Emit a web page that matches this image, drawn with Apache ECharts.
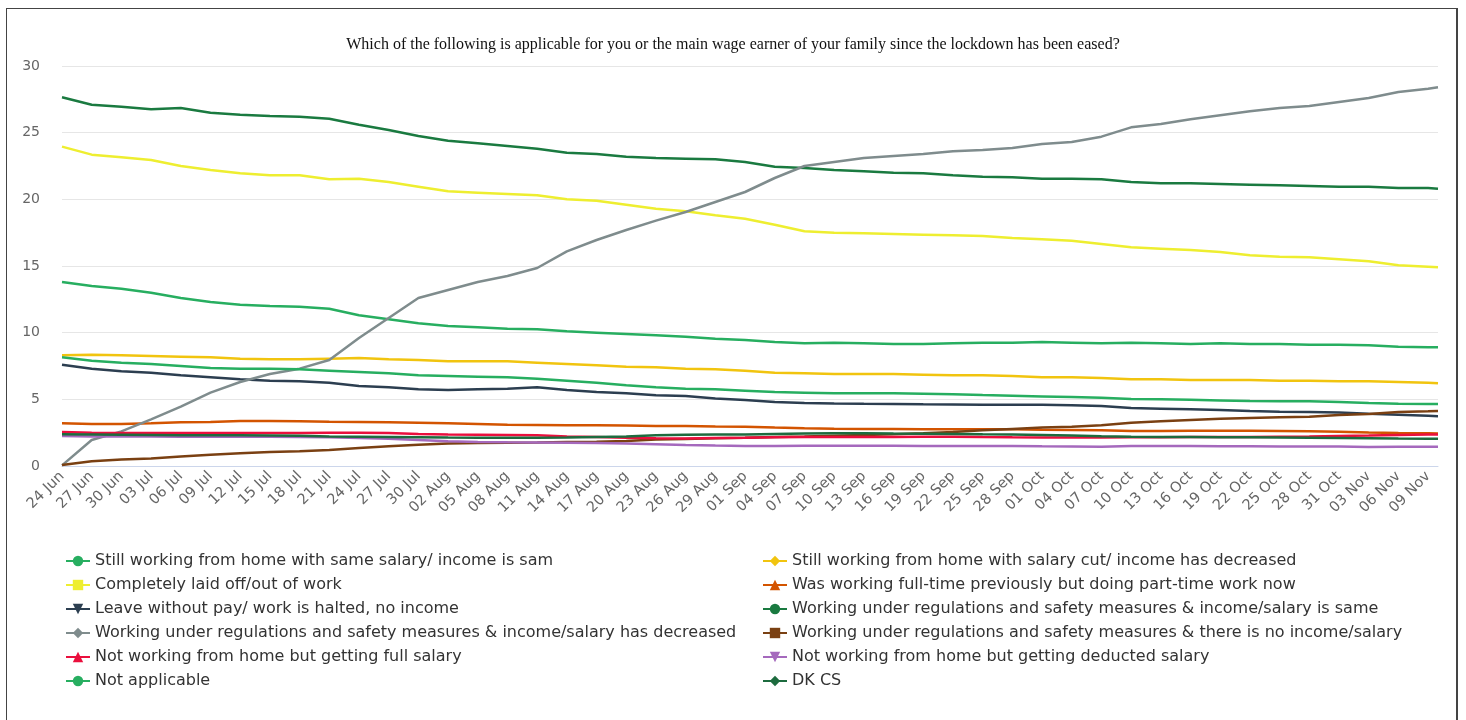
<!DOCTYPE html>
<html>
<head>
<meta charset="utf-8">
<script src="https://cdn.jsdelivr.net/npm/echarts@6/dist/echarts.min.js"></script>
<style>
  html, body { margin: 0; padding: 0; background: #fff; }
  #chart { position: absolute; left: 0; top: 0; width: 1466px; height: 720px; }
  #frame {
    position: absolute; left: 6px; top: 8px; width: 1449px; height: 720px;
    border-left: 1px solid #444; border-top: 1px solid #444; border-right: 2px solid #444;
    pointer-events: none;
  }
</style>
</head>
<body>
<div id="chart"></div>
<div id="frame"></div>
<script>
// 标题
const titleText = 'Which of the following is applicable for you or the main wage earner of your family since the lockdown has been eased?'

// x 轴刻度（每3天一个）
const tickLabels = ['24 Jun', '27 Jun', '30 Jun', '03 Jul', '06 Jul', '09 Jul', '12 Jul', '15 Jul', '18 Jul', '21 Jul',
  '24 Jul', '27 Jul', '30 Jul', '02 Aug', '05 Aug', '08 Aug', '11 Aug', '14 Aug', '17 Aug', '20 Aug',
  '23 Aug', '26 Aug', '29 Aug', '01 Sep', '04 Sep', '07 Sep', '10 Sep', '13 Sep', '16 Sep', '19 Sep',
  '22 Sep', '25 Sep', '28 Sep', '01 Oct', '04 Oct', '07 Oct', '10 Oct', '13 Oct', '16 Oct', '19 Oct',
  '22 Oct', '25 Oct', '28 Oct', '31 Oct', '03 Nov', '06 Nov', '09 Nov']
// 读数的日期 = 刻度 + 最后一天
const sampleDates = tickLabels.concat(['10 Nov'])

// 各系列数值（%）
const stillSame = [13.8, 13.5, 13.3, 13.0, 12.6, 12.3, 12.1, 12.0, 11.95, 11.8, 11.3, 11.0, 10.7, 10.5, 10.4, 10.3, 10.25, 10.1, 10.0, 9.9, 9.8, 9.7, 9.55, 9.45, 9.3, 9.2, 9.25, 9.2, 9.15, 9.15, 9.2, 9.25, 9.25, 9.3, 9.25, 9.2, 9.25, 9.2, 9.15, 9.2, 9.15, 9.15, 9.1, 9.1, 9.05, 8.95, 8.9, 8.9]
const salaryCut = [8.3, 8.35, 8.3, 8.25, 8.2, 8.15, 8.05, 8.0, 8.0, 8.05, 8.1, 8.0, 7.95, 7.85, 7.85, 7.85, 7.75, 7.65, 7.55, 7.45, 7.4, 7.3, 7.25, 7.15, 7.0, 6.95, 6.9, 6.9, 6.9, 6.85, 6.8, 6.8, 6.75, 6.65, 6.65, 6.6, 6.5, 6.5, 6.45, 6.45, 6.45, 6.4, 6.4, 6.35, 6.35, 6.3, 6.25, 6.2]
const laidOff = [23.95, 23.35, 23.15, 22.95, 22.5, 22.2, 21.95, 21.8, 21.8, 21.5, 21.55, 21.3, 20.95, 20.6, 20.5, 20.4, 20.3, 20.0, 19.9, 19.6, 19.3, 19.1, 18.8, 18.55, 18.1, 17.6, 17.5, 17.45, 17.4, 17.35, 17.3, 17.25, 17.1, 17.0, 16.9, 16.65, 16.4, 16.3, 16.2, 16.05, 15.8, 15.7, 15.65, 15.5, 15.35, 15.05, 14.95, 14.9]
const partTime = [3.2, 3.15, 3.15, 3.2, 3.28, 3.3, 3.37, 3.37, 3.35, 3.32, 3.3, 3.28, 3.25, 3.2, 3.15, 3.1, 3.08, 3.05, 3.05, 3.03, 3.0, 3.0, 2.97, 2.95, 2.88, 2.83, 2.8, 2.78, 2.77, 2.75, 2.75, 2.75, 2.75, 2.72, 2.7, 2.68, 2.63, 2.63, 2.65, 2.65, 2.65, 2.63, 2.6, 2.57, 2.52, 2.48, 2.45, 2.43]
const leaveNoPay = [7.6, 7.3, 7.1, 7.0, 6.8, 6.65, 6.5, 6.4, 6.35, 6.25, 6.0, 5.9, 5.75, 5.7, 5.75, 5.8, 5.9, 5.7, 5.55, 5.45, 5.3, 5.25, 5.07, 4.95, 4.8, 4.72, 4.68, 4.66, 4.65, 4.63, 4.62, 4.6, 4.6, 4.6, 4.55, 4.5, 4.35, 4.3, 4.25, 4.2, 4.12, 4.07, 4.05, 4.02, 3.92, 3.85, 3.76, 3.73]
const regsSame = [27.65, 27.1, 26.95, 26.75, 26.85, 26.5, 26.35, 26.25, 26.2, 26.05, 25.6, 25.2, 24.75, 24.4, 24.2, 24.0, 23.8, 23.5, 23.4, 23.2, 23.1, 23.05, 23.0, 22.8, 22.45, 22.35, 22.2, 22.1, 22.0, 21.95, 21.8, 21.7, 21.65, 21.55, 21.55, 21.5, 21.3, 21.2, 21.2, 21.15, 21.1, 21.05, 21.0, 20.95, 20.95, 20.85, 20.85, 20.8]
const regsDecreased = [0.05, 1.95, 2.6, 3.5, 4.45, 5.5, 6.3, 6.9, 7.3, 7.95, 9.6, 11.1, 12.6, 13.2, 13.8, 14.25, 14.85, 16.1, 16.95, 17.7, 18.4, 19.05, 19.8, 20.55, 21.6, 22.5, 22.8, 23.1, 23.25, 23.4, 23.6, 23.7, 23.85, 24.15, 24.3, 24.7, 25.4, 25.65, 26.0, 26.3, 26.6, 26.85, 27.0, 27.3, 27.6, 28.05, 28.3, 28.4]
const regsNoIncome = [0.07, 0.35, 0.48, 0.57, 0.72, 0.85, 0.95, 1.05, 1.1, 1.2, 1.35, 1.48, 1.6, 1.68, 1.72, 1.75, 1.77, 1.8, 1.82, 1.88, 1.98, 2.03, 2.08, 2.12, 2.18, 2.22, 2.27, 2.32, 2.38, 2.45, 2.55, 2.68, 2.78, 2.88, 2.95, 3.05, 3.25, 3.35, 3.45, 3.55, 3.6, 3.65, 3.7, 3.82, 3.9, 4.05, 4.1, 4.12]
const fullSalary = [2.55, 2.5, 2.48, 2.48, 2.47, 2.47, 2.47, 2.47, 2.48, 2.5, 2.5, 2.47, 2.4, 2.36, 2.34, 2.32, 2.3, 2.22, 2.17, 2.12, 2.08, 2.07, 2.1, 2.12, 2.15, 2.17, 2.18, 2.18, 2.18, 2.19, 2.2, 2.17, 2.15, 2.14, 2.13, 2.13, 2.15, 2.16, 2.18, 2.18, 2.18, 2.2, 2.22, 2.25, 2.28, 2.32, 2.36, 2.37]
const deductedSalary = [2.25, 2.22, 2.22, 2.22, 2.2, 2.2, 2.2, 2.2, 2.18, 2.15, 2.1, 2.05, 1.95, 1.85, 1.8, 1.78, 1.77, 1.75, 1.72, 1.68, 1.63, 1.57, 1.53, 1.5, 1.5, 1.52, 1.52, 1.52, 1.52, 1.5, 1.5, 1.5, 1.5, 1.48, 1.47, 1.45, 1.5, 1.5, 1.5, 1.48, 1.48, 1.47, 1.47, 1.47, 1.42, 1.45, 1.45, 1.45]
const notApplicable = [8.15, 7.9, 7.75, 7.65, 7.5, 7.35, 7.3, 7.3, 7.25, 7.15, 7.05, 6.95, 6.8, 6.75, 6.7, 6.65, 6.55, 6.4, 6.25, 6.05, 5.9, 5.8, 5.75, 5.65, 5.55, 5.5, 5.45, 5.45, 5.45, 5.42, 5.38, 5.32, 5.27, 5.22, 5.17, 5.12, 5.03, 5.0, 4.96, 4.92, 4.88, 4.86, 4.85, 4.8, 4.72, 4.67, 4.65, 4.65]
const dkcs = [2.38, 2.37, 2.35, 2.33, 2.3, 2.3, 2.3, 2.28, 2.26, 2.22, 2.2, 2.18, 2.16, 2.13, 2.12, 2.12, 2.12, 2.14, 2.18, 2.22, 2.3, 2.35, 2.37, 2.37, 2.4, 2.43, 2.45, 2.45, 2.43, 2.42, 2.4, 2.38, 2.37, 2.33, 2.28, 2.23, 2.2, 2.18, 2.17, 2.16, 2.15, 2.14, 2.12, 2.1, 2.08, 2.06, 2.05, 2.05]

// 系列名称
const seriesNames = [
  'Still working from home with same salary/ income is sam',
  'Still working from home with salary cut/ income has decreased',
  'Completely laid off/out of work',
  'Was working full-time previously but doing part-time work now',
  'Leave without pay/ work is halted, no income',
  'Working under regulations and safety measures & income/salary is same',
  'Working under regulations and safety measures & income/salary has decreased',
  'Working under regulations and safety measures & there is no income/salary',
  'Not working from home but getting full salary',
  'Not working from home but getting deducted salary',
  'Not applicable',
  'DK CS'
]
const seriesValues = [stillSame, salaryCut, laidOff, partTime, leaveNoPay, regsSame, regsDecreased, regsNoIncome, fullSalary, deductedSalary, notApplicable, dkcs]
const seriesColors = ['#27ae60', '#f1c40f', '#eeee30', '#d35400', '#2c3e50', '#1a7a40', '#7f8c8d', '#7a4012', '#ea0f3d', '#a569bd', '#27ae60', '#1d6b3e']
const seriesSymbols = ['circle', 'diamond', 'rect', 'triangle', 'triangle', 'circle', 'diamond', 'rect', 'triangle', 'triangle', 'circle', 'diamond']
const symbolRotates = [0, 0, 0, 0, 180, 0, 0, 0, 0, 180, 0, 0]

// 日期类目（每天）
const monthNames = ['Jan', 'Feb', 'Mar', 'Apr', 'May', 'Jun', 'Jul', 'Aug', 'Sep', 'Oct', 'Nov', 'Dec']
const dayCategories = []
for (let t = Date.UTC(2020, 5, 24); t <= Date.UTC(2020, 10, 10); t += 86400000) {
  const d = new Date(t)
  dayCategories.push(String(d.getUTCDate()).padStart(2, '0') + ' ' + monthNames[d.getUTCMonth()])
}

const chartInstance = echarts.init(document.getElementById('chart'), null, { renderer: 'canvas' })

const series = seriesNames.map((name, i) => ({
  name,
  type: 'line',
  symbol: seriesSymbols[i],
  symbolRotate: symbolRotates[i],
  showSymbol: false,
  smooth: false,
  color: seriesColors[i],
  lineStyle: { width: 2.5, color: seriesColors[i] },
  data: sampleDates.map((d, j) => [d, seriesValues[i][j]])
}))

const legendBase = {
  orient: 'vertical',
  padding: 0,
  itemWidth: 24,
  itemHeight: 13,
  itemGap: 8,
  textStyle: { fontFamily: 'DejaVu Sans', fontSize: 16, color: '#333', lineHeight: 16 }
}

const option = {
  animation: false,
  backgroundColor: '#fff',
  title: {
    text: titleText,
    left: 'center',
    top: 32,
    textStyle: { fontFamily: 'Liberation Serif', fontSize: 16, fontWeight: 'normal', color: '#111' }
  },
  legend: [
    Object.assign({ left: 65, top: 553, data: seriesNames.filter((n, i) => i % 2 === 0) }, legendBase),
    Object.assign({ left: 762, top: 553, data: seriesNames.filter((n, i) => i % 2 === 1) }, legendBase)
  ],
  grid: { left: 62, right: 28, top: 66, bottom: 254, containLabel: false },
  xAxis: {
    type: 'category',
    boundaryGap: false,
    data: dayCategories,
    axisLine: { lineStyle: { color: '#ccd6eb', width: 1 } },
    axisTick: { show: false },
    axisLabel: {
      interval: 2,
      rotate: 45,
      margin: 8,
      color: '#666',
      fontFamily: 'DejaVu Sans',
      fontSize: 14.5
    }
  },
  yAxis: {
    type: 'value',
    min: 0,
    max: 30,
    interval: 5,
    axisLine: { show: false },
    axisTick: { show: false },
    splitLine: { lineStyle: { color: '#e6e6e6', width: 1 } },
    axisLabel: { margin: 22, color: '#666', fontFamily: 'DejaVu Sans', fontSize: 14 }
  },
  series
}

chartInstance.setOption(option)
</script>
</body>
</html>
